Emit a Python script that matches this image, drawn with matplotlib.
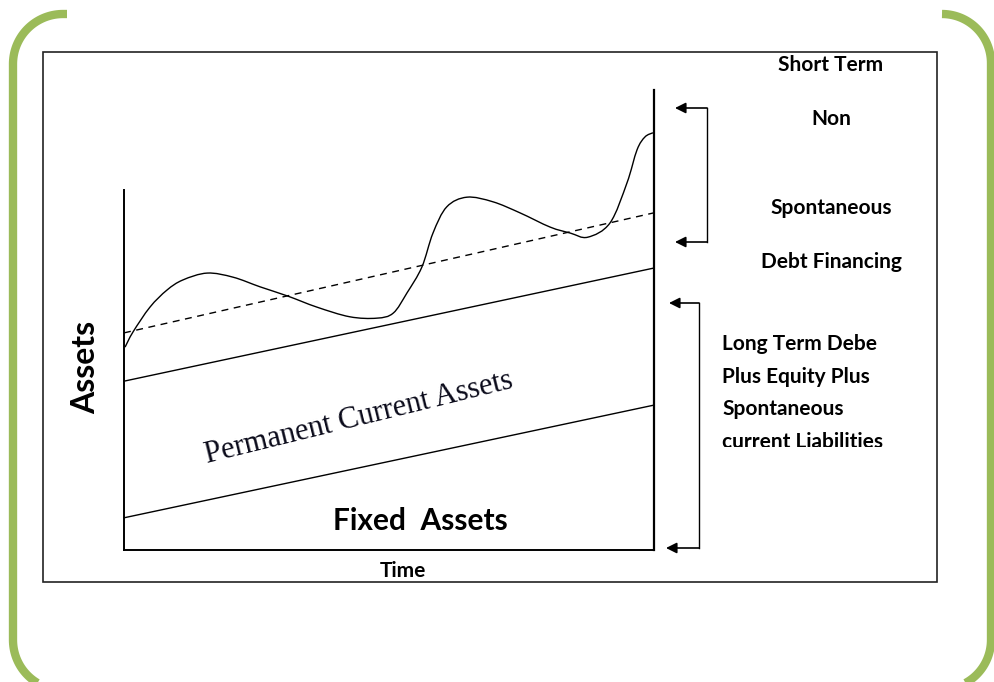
import numpy as np
import matplotlib
matplotlib.use('Agg')
import matplotlib.pyplot as plt
from matplotlib.patches import Rectangle, PathPatch
from matplotlib.path import Path

# time axis runs 0..10, assets axis 0..10 (arbitrary units)
t_ends = [0, 10]
fixed_assets = [0.70, 3.15]
permanent_current = [3.67, 6.13]
trend_dashed = [4.72, 7.33]

# fluctuating total assets curve
curve_t = [0.02, 0.17, 0.49, 0.81, 1.11, 1.57, 2.06, 2.57, 3.09, 3.64, 4.26, 4.77,
           5.08, 5.34, 5.62, 5.83, 6.09, 6.47, 6.96, 7.47, 8.04, 8.42, 8.75, 9.17,
           9.49, 9.68, 9.83, 9.98]
curve_a = [4.41, 4.74, 5.28, 5.65, 5.87, 6.02, 5.93, 5.72, 5.52, 5.28, 5.07, 5.04,
           5.15, 5.59, 6.15, 6.89, 7.46, 7.67, 7.57, 7.33, 7.02, 6.89, 6.80, 7.11,
           7.98, 8.70, 8.98, 9.07]

short_labels = ['Short Term', 'Non', 'Spontaneous', 'Debt Financing']
long_labels = ['Long Term Debe', 'Plus Equity Plus', 'Spontaneous', 'current Liabilities']

green = '#9bbb59'
font = 'Lato'

fig = plt.figure(figsize=(9.95, 6.82), dpi=100)

# background layer in pixel coordinates for frame, brackets and labels
base = fig.add_axes([0, 0, 1, 1])
base.set_xlim(0, 995)
base.set_ylim(682, 0)
base.axis('off')


def green_bracket(x_line, x_end, r, side):
    # side = -1 for the left bracket, +1 for the right one
    th = np.linspace(0, np.pi / 2, 40)
    cx = x_line - side * r
    top_x = cx + side * r * np.sin(th)
    top_y = (14 + r) - r * np.cos(th)
    bot_x = cx + side * r * np.cos(th)
    bot_y = 640 + r * np.sin(th)
    xs = np.concatenate([[x_end], top_x, bot_x])
    ys = np.concatenate([[14], top_y, bot_y])
    base.plot(xs, ys, color=green, lw=6, solid_capstyle='butt')


green_bracket(13, 67, 50, -1)
green_bracket(991, 942, 49, 1)

# black frame
base.add_patch(Rectangle((43, 52), 894, 530, fill=False, ec='#222222', lw=1.2))

# inner chart
ax = fig.add_axes([124 / 995, (682 - 550) / 682, 530 / 995, 460 / 682])
ax.set_xlim(0, 10)
ax.set_ylim(0, 10)
ax.axis('off')

ax.plot([0, 0], [0, 7.83], color='black', lw=1.4, clip_on=False)
ax.plot([0, 10], [0, 0], color='black', lw=1.4, clip_on=False)
ax.plot([10, 10], [0, 10], color='black', lw=1.6, clip_on=False)
ax.plot(t_ends, fixed_assets, color='black', lw=1.0, clip_on=False)
ax.plot(t_ends, permanent_current, color='black', lw=1.0, clip_on=False)
ax.plot(t_ends, trend_dashed, color='black', lw=1.0, ls=(0, (5, 4)), clip_on=False)

# smooth drawing of the curve: bezier segments through the read points
pts = np.column_stack([curve_t, curve_a])
padded = np.vstack([pts[0], pts, pts[-1]])
verts = [pts[0]]
codes = [Path.MOVETO]
for i in range(len(pts) - 1):
    p0, p1, p2, p3 = padded[i], padded[i + 1], padded[i + 2], padded[i + 3]
    verts += [p1 + (p2 - p0) / 6, p2 - (p3 - p1) / 6, p2]
    codes += [Path.CURVE4] * 3
ax.add_patch(PathPatch(Path(verts, codes), fill=False, ec='black', lw=1.0,
                       clip_on=False))


# brackets with arrows
def bracket(x, y_top, y_bot, tip_top, tip_bot):
    base.plot([x, x], [y_top, y_bot], color='black', lw=1.0)
    for y, tip in [(y_top, tip_top), (y_bot, tip_bot)]:
        base.annotate('', xy=(tip, y), xytext=(x, y),
                      arrowprops=dict(arrowstyle='-|>', color='black', lw=1.2,
                                      mutation_scale=16, shrinkA=0, shrinkB=0))


bracket(707, 108, 242, 675, 675)
bracket(699, 303, 548, 669, 666)

# labels
for lab, y in zip(short_labels, [65, 119, 208, 262]):
    base.text(831, y, lab, family=font, weight='bold', fontsize=15,
              ha='center', va='center')

for lab, y in zip(long_labels, [344, 377, 409, 442]):
    base.text(722, y, lab, family=font, weight='bold', fontsize=15,
              ha='left', va='center')
# the last line is cut off in the original
base.add_patch(Rectangle((712, 447), 200, 25, fc='white', ec='none', zorder=5))

base.text(86, 367, 'Assets', family=font, weight='bold', fontsize=23,
          rotation=90, ha='center', va='center')
base.text(420, 521, 'Fixed  Assets', family=font, weight='bold', fontsize=21.5,
          ha='center', va='center')
base.text(403, 571, 'Time', family=font, weight='bold', fontsize=15,
          ha='center', va='center')
base.text(359, 418, 'Permanent Current Assets', family='Liberation Serif',
          fontsize=22, color='#0a0a1a', rotation=13.8, rotation_mode='anchor',
          ha='center', va='center')

fig.savefig('out.png', dpi=100)
